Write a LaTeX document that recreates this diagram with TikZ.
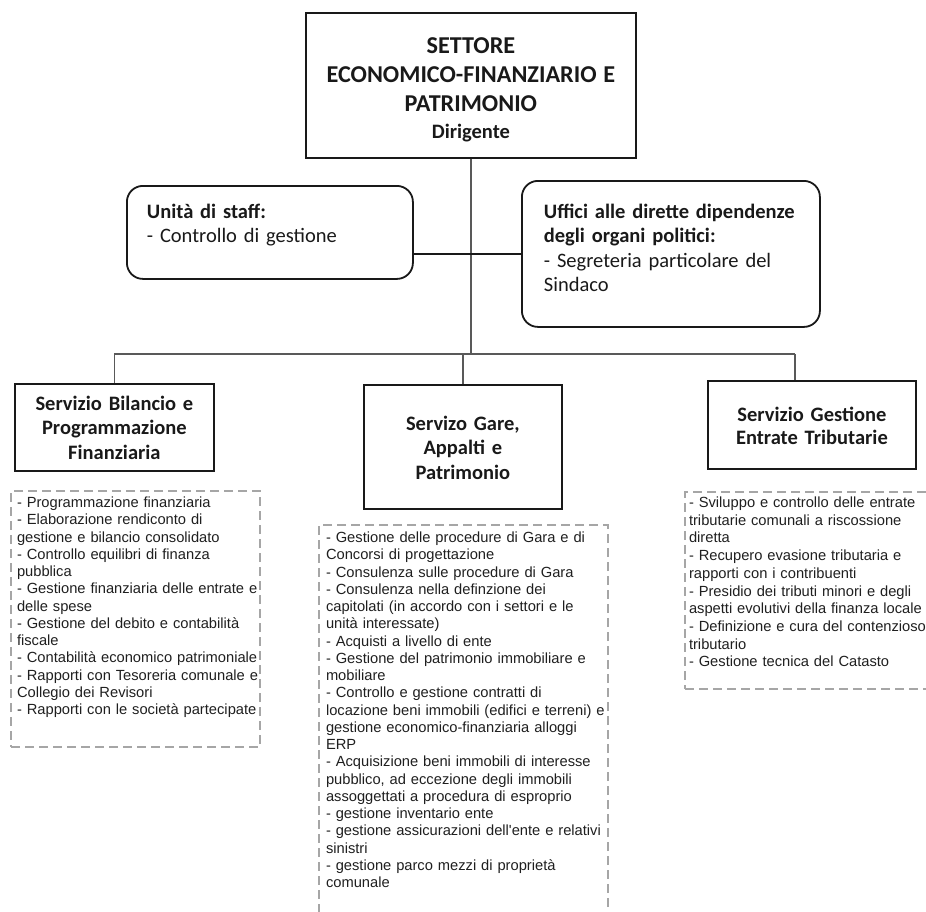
\documentclass[tikz,border=0pt]{standalone}
\usepackage{fontspec}
\setmainfont{Carlito}
\newfontfamily\listfont{Liberation Sans}

\begin{document}
\begin{tikzpicture}[x=1pt, y=-1pt,
    box/.style={draw=black!90, line width=1.8pt, anchor=north west, inner xsep=0pt, inner ysep=0pt, align=center, text=black!90},
    headfont/.style={font=\fontsize{20.5}{24.5}\selectfont\bfseries},
    staffbox/.style={draw=black!90, line width=1.8pt, rounded corners=16pt, anchor=north west, inner ysep=0pt, align=left, text=black!90, font=\fontsize{20.5}{24.5}\selectfont},
    listbox/.style={draw=gray!70, line width=2pt, dash pattern=on 9pt off 5pt, anchor=north west, inner ysep=0pt, text=black!88, font=\listfont\fontsize{14.7}{17.25}\selectfont},
    link/.style={draw=black!65, line width=1.6pt}]

\useasboundingbox (0,0) rectangle (926,911);

% settore
\node[box, text width=330pt, text height=40.8pt, text depth=104.2pt, font=\fontsize{20.5}{27}\selectfont\bfseries] (settore) at (305,12)
  {{\fontsize{24.2}{29}\selectfont SETTORE\\ECONOMICO-FINANZIARIO E\\PATRIMONIO\par}Dirigente};

% staff
\node[staffbox, inner xsep=20pt, text width=246pt, text height=32.5pt, text depth=60.5pt] (staff) at (126,185)
  {\textbf{Unità di staff:}\\- Controllo di gestione};
\node[staffbox, inner xsep=22pt, text width=254pt, text height=37.5pt, text depth=108.5pt] (uffici) at (521,180)
  {\textbf{Uffici alle dirette dipendenze}\\\textbf{degli organi politici:}\\- Segreteria particolare del\\Sindaco};

% servizi
\node[box, headfont, text width=199pt, text height=26.5pt, text depth=60.5pt] (bilancio) at (14,383)
  {Servizio Bilancio e\\Programmazione\\Finanziaria};
\node[box, headfont, text width=198pt, text height=45.5pt, text depth=78.5pt] (gare) at (363,384)
  {Servizo Gare,\\Appalti e\\Patrimonio};
\node[box, headfont, text width=208pt, text height=40.5pt, text depth=47.5pt, font=\fontsize{20.5}{23.5}\selectfont\bfseries] (tributi) at (707,380)
  {Servizio Gestione\\Entrate Tributarie};

% compiti
\node[listbox, inner xsep=6pt, text width=237pt, text height=16.5pt, text depth=239.5pt] (compitiA) at (10,490)
  {\begin{tabular}[t]{@{}l@{}}
   - Programmazione finanziaria\\
   - Elaborazione rendiconto di\\
   gestione e bilancio consolidato\\
   - Controllo equilibri di finanza\\
   pubblica\\
   - Gestione finanziaria delle entrate e\\
   delle spese\\
   - Gestione del debito e contabilità\\
   fiscale\\
   - Contabilità economico patrimoniale\\
   - Rapporti con Tesoreria comunale e\\
   Collegio dei Revisori\\
   - Rapporti con le società partecipate
   \end{tabular}};
\node[listbox, inner xsep=7pt, text width=275pt, text height=17.5pt, text depth=383.5pt] (compitiB) at (318,524)
  {\begin{tabular}[t]{@{}l@{}}
   - Gestione delle procedure di Gara e di\\
   Concorsi di progettazione\\
   - Consulenza sulle procedure di Gara\\
   - Consulenza nella definzione dei\\
   capitolati (in accordo con i settori e le\\
   unità interessate)\\
   - Acquisti a livello di ente\\
   - Gestione del patrimonio immobiliare e\\
   mobiliare\\
   - Controllo e gestione contratti di\\
   locazione beni immobili (edifici e terreni) e\\
   gestione economico-finanziaria alloggi\\
   ERP\\
   - Acquisizione beni immobili di interesse\\
   pubblico, ad eccezione degli immobili\\
   assoggettati a procedura di esproprio\\
   - gestione inventario ente\\
   - gestione assicurazioni dell'ente e relativi\\
   sinistri\\
   - gestione parco mezzi di proprietà\\
   comunale
   \end{tabular}};
\node[listbox, inner xsep=4pt, text width=252pt, text height=15.5pt, text depth=181.5pt, font=\listfont\fontsize{14.7}{17.7}\selectfont] (compitiC) at (684,491)
  {\begin{tabular}[t]{@{}l@{}}
   - Sviluppo e controllo delle entrate\\
   tributarie comunali a riscossione\\
   diretta\\
   - Recupero evasione tributaria e\\
   rapporti con i contribuenti\\
   - Presidio dei tributi minori e degli\\
   aspetti evolutivi della finanza locale\\
   - Definizione e cura del contenzioso\\
   tributario\\
   - Gestione tecnica del Catasto
   \end{tabular}};

% collegamenti
\coordinate (hub) at (471,354);
\coordinate (busR) at (795,354);
\draw[link] (settore.south) -- (settore.south |- hub);
\draw[link, draw=black!90, line width=1.8pt] (staff.east |- uffici.west) -- (uffici.west);
\draw[link] (bilancio.north |- hub) -- (busR);
\draw[link] (bilancio.north) -- (bilancio.north |- hub);
\draw[link] (gare.north) -- (gare.north |- hub);
\draw[link] (busR) -- (busR |- tributi.north);
\end{tikzpicture}
\end{document}
